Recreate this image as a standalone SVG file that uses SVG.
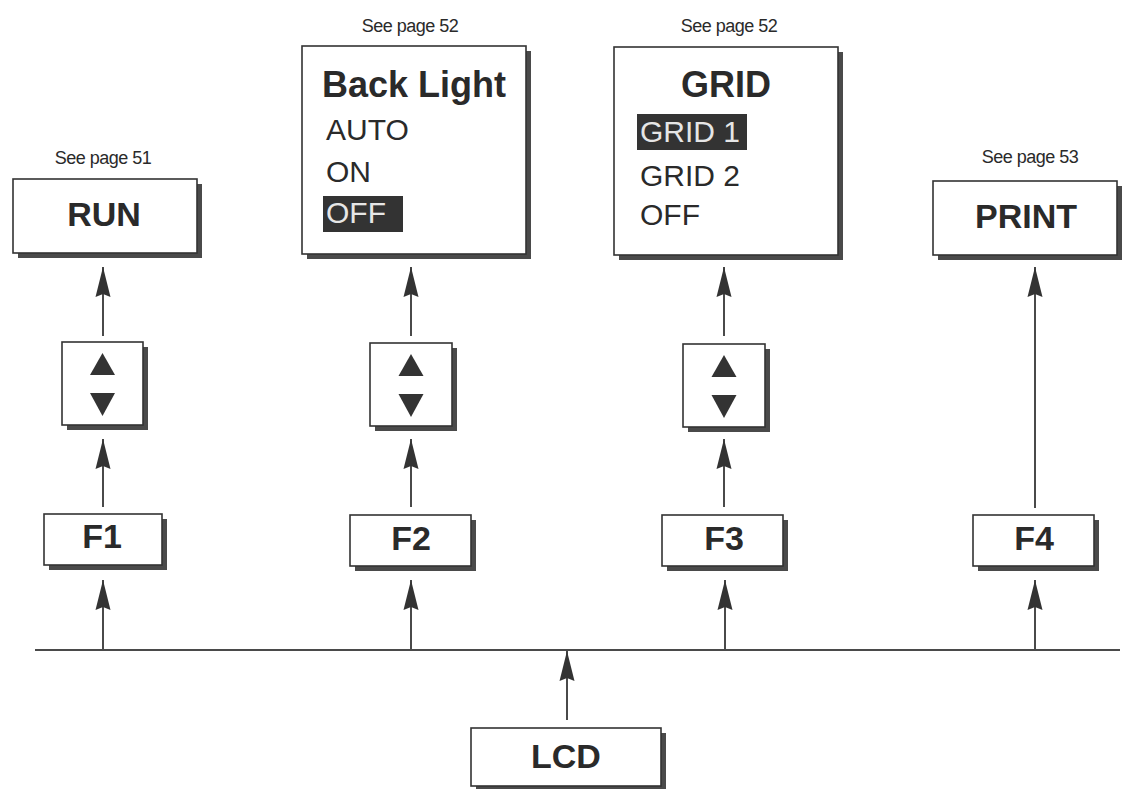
<svg xmlns="http://www.w3.org/2000/svg" width="1123" height="789" viewBox="0 0 1123 789">
<defs>
<style>
.bg{fill:#ffffff}
.sh{fill:#4a4a4a}
.bx{fill:#ffffff;stroke:#333333;stroke-width:1.6}
.t{font-family:"Liberation Sans",Arial,Helvetica,sans-serif;fill:#2a2a2a}
.ttl{font-size:36px;font-weight:bold;text-anchor:middle}
.lbl{font-size:34px;font-weight:bold;text-anchor:middle}
.item{font-size:30px}
.see{font-size:18px;text-anchor:middle;letter-spacing:-0.5px}
.hl{fill:#333333}
.hlt{fill:#e6e6e6}
.tri{fill:#333333}
.ln{stroke:#4a4a4a;stroke-width:2;fill:none}
.ar{stroke:#4a4a4a;stroke-width:2;fill:none;marker-end:url(#ah)}
</style>
<marker id="ah" viewBox="0 0 30 16" refX="30" refY="8" markerWidth="30" markerHeight="16" markerUnits="userSpaceOnUse" orient="auto">
<path d="M0,0.5 L30,8 L0,15.5 L3,8 z" fill="#333333"/>
</marker>
</defs>
<rect class="bg" x="0" y="0" width="1123" height="789"/>

<g id="connectors">
<line class="ln" x1="35" y1="650" x2="1120" y2="650"/>
<line class="ar" x1="567" y1="720" x2="567" y2="651"/>
<line class="ar" x1="103" y1="650" x2="103" y2="580"/>
<line class="ar" x1="411" y1="650" x2="411" y2="580"/>
<line class="ar" x1="725" y1="650" x2="725" y2="580"/>
<line class="ar" x1="1035" y1="650" x2="1035" y2="580"/>
<line class="ar" x1="103" y1="507" x2="103" y2="439"/>
<line class="ar" x1="411" y1="507" x2="411" y2="439"/>
<line class="ar" x1="724" y1="507" x2="724" y2="439"/>
<line class="ar" x1="103" y1="336" x2="103" y2="267"/>
<line class="ar" x1="411" y1="336" x2="411" y2="267"/>
<line class="ar" x1="724" y1="336" x2="724" y2="267"/>
<line class="ar" x1="1035" y1="508" x2="1035" y2="267"/>
</g>

<g id="run">
<text class="t see" x="103" y="164">See page 51</text>
<rect class="sh" x="18" y="184" width="184" height="74"/>
<rect class="bx" x="13" y="179" width="184" height="74"/>
<text class="t lbl" x="104" y="226">RUN</text>
</g>

<g id="backlight">
<text class="t see" x="410" y="32">See page 52</text>
<rect class="sh" x="307" y="51" width="224" height="208"/>
<rect class="bx" x="302" y="46" width="224" height="208"/>
<text class="t ttl" x="414" y="97">Back Light</text>
<text class="t item" x="326" y="140">AUTO</text>
<text class="t item" x="326" y="182">ON</text>
<rect class="hl" x="323" y="196" width="80" height="36"/>
<text class="t item hlt" x="326" y="223">OFF</text>
</g>

<g id="grid">
<text class="t see" x="729" y="32">See page 52</text>
<rect class="sh" x="619" y="52" width="224" height="208"/>
<rect class="bx" x="614" y="47" width="224" height="208"/>
<text class="t ttl" x="726" y="97">GRID</text>
<rect class="hl" x="637" y="114" width="110" height="36"/>
<text class="t item hlt" x="640" y="142">GRID 1</text>
<text class="t item" x="640" y="186">GRID 2</text>
<text class="t item" x="640" y="225">OFF</text>
</g>

<g id="print">
<text class="t see" x="1030" y="163">See page 53</text>
<rect class="sh" x="938" y="186" width="184" height="74"/>
<rect class="bx" x="933" y="181" width="184" height="74"/>
<text class="t lbl" x="1026" y="228">PRINT</text>
</g>

<g id="updown1">
<rect class="sh" x="67" y="347" width="81" height="83"/>
<rect class="bx" x="62" y="342" width="81" height="83"/>
<polygon class="tri" points="90,375 115,375 102.5,353"/>
<polygon class="tri" points="90,393 115,393 102.5,416"/>
</g>

<g id="updown2">
<rect class="sh" x="375" y="348" width="82" height="83"/>
<rect class="bx" x="370" y="343" width="82" height="83"/>
<polygon class="tri" points="398.5,376 423.5,376 411,354"/>
<polygon class="tri" points="398.5,394 423.5,394 411,417"/>
</g>

<g id="updown3">
<rect class="sh" x="688" y="349" width="82" height="83"/>
<rect class="bx" x="683" y="344" width="82" height="83"/>
<polygon class="tri" points="711.5,377 736.5,377 724,355"/>
<polygon class="tri" points="711.5,395 736.5,395 724,418"/>
</g>

<g id="f1">
<rect class="sh" x="49" y="519" width="118" height="51"/>
<rect class="bx" x="44" y="514" width="118" height="51"/>
<text class="t lbl" x="102" y="548">F1</text>
</g>

<g id="f2">
<rect class="sh" x="355" y="520" width="121" height="51"/>
<rect class="bx" x="350" y="515" width="121" height="51"/>
<text class="t lbl" x="411" y="550">F2</text>
</g>

<g id="f3">
<rect class="sh" x="667" y="520" width="121" height="51"/>
<rect class="bx" x="662" y="515" width="121" height="51"/>
<text class="t lbl" x="724" y="550">F3</text>
</g>

<g id="f4">
<rect class="sh" x="978" y="520" width="121" height="51"/>
<rect class="bx" x="973" y="515" width="121" height="51"/>
<text class="t lbl" x="1034" y="550">F4</text>
</g>

<g id="lcd">
<rect class="sh" x="476" y="733" width="190" height="58"/>
<rect class="bx" x="471" y="728" width="190" height="58"/>
<text class="t lbl" x="566" y="768">LCD</text>
</g>
</svg>
